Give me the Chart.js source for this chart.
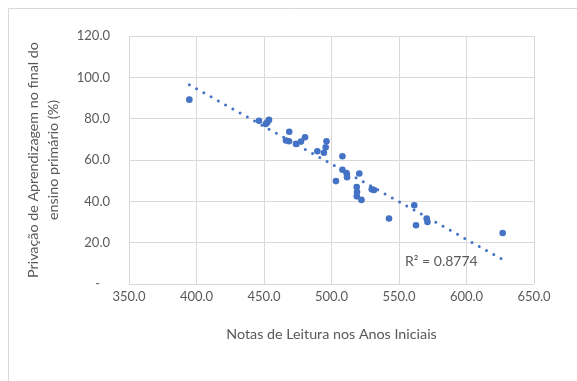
<!DOCTYPE html>
<html>
<head>
<meta charset="utf-8">
<script src="https://cdn.jsdelivr.net/npm/chart.js@4/dist/chart.umd.min.js"></script>
<style>
  html, body { margin: 0; padding: 0; background: #ffffff; }
  #wrap { width: 577px; height: 381px; position: relative; }
</style>
</head>
<body>
<div id="wrap"><canvas id="chart" width="577" height="381"></canvas></div>
<script>
// Reading score in the early grades vs. learning poverty at the end of primary school
const readingScores = [
  394.7, 446.3, 451.3, 452.4, 453.7, 468.7, 466.3, 468.5, 473.7, 477.4, 480.4,
  489.5, 494.4, 495.7, 496.3, 508.1, 508.1, 511.1, 511.5, 503.3, 520.6, 518.7,
  518.9, 518.7, 522.2, 529.8, 531.5, 542.6, 561.3, 562.6, 570.5, 571.1, 626.8
];
const learningPoverty = [
  89.2, 79.0, 77.4, 78.2, 79.4, 73.7, 69.4, 69.1, 67.8, 68.9, 71.0,
  64.2, 63.5, 66.2, 69.1, 61.8, 55.3, 53.7, 51.7, 49.8, 53.5, 46.9,
  44.5, 42.4, 40.7, 45.8, 45.5, 31.7, 38.1, 28.4, 31.7, 30.0, 24.7
];
const xTicks = [350, 400, 450, 500, 550, 600, 650];
const yTicks = [0, 20, 40, 60, 80, 100, 120];
const xTitle = 'Notas de Leitura nos Anos Iniciais';
const yTitle = ['Privação de Aprendizagem no final do', 'ensino primário (%)'];
const rSquaredLabel = 'R² = 0.8774';

const BLUE = '#4472C4';
const TEXT = '#595959';
const GRID = '#d9d9d9';
const FONT = 'Lato, "Open Sans", sans-serif';

// Least-squares linear trendline over the observed range
const n = readingScores.length;
const meanX = readingScores.reduce((a, b) => a + b, 0) / n;
const meanY = learningPoverty.reduce((a, b) => a + b, 0) / n;
let sxy = 0, sxx = 0;
for (let i = 0; i < n; i++) {
  sxy += (readingScores[i] - meanX) * (learningPoverty[i] - meanY);
  sxx += (readingScores[i] - meanX) ** 2;
}
const slope = sxy / sxx;
const intercept = meanY - slope * meanX;
const xMin = Math.min(...readingScores);
const xMax = Math.max(...readingScores);
const trendPoints = [
  { x: xMin, y: intercept + slope * xMin },
  { x: xMax, y: intercept + slope * xMax }
];

const scatterPoints = readingScores.map((x, i) => ({ x, y: learningPoverty[i] }));

// Outer frame and the trendline's R² annotation
const framePlugin = {
  id: 'frame',
  beforeDraw(chart) {
    const ctx = chart.ctx;
    ctx.save();
    ctx.fillStyle = '#ffffff';
    ctx.fillRect(0, 0, chart.width, chart.height);
    ctx.strokeStyle = GRID;
    ctx.lineWidth = 1;
    ctx.beginPath();
    ctx.moveTo(8.5, chart.height);
    ctx.lineTo(8.5, 8.5);
    ctx.lineTo(chart.width, 8.5);
    ctx.stroke();
    ctx.restore();
  },
  afterDatasetsDraw(chart) {
    const ctx = chart.ctx;
    const xs = chart.scales.x, ys = chart.scales.y;
    ctx.save();
    ctx.font = '14px ' + FONT;
    ctx.fillStyle = TEXT;
    ctx.textAlign = 'left';
    ctx.textBaseline = 'middle';
    ctx.fillText(rSquaredLabel, xs.getPixelForValue(554.5), ys.getPixelForValue(10.7));
    ctx.restore();
  }
};

new Chart(document.getElementById('chart'), {
  type: 'scatter',
  data: {
    datasets: [
      {
        label: 'Pontos',
        data: scatterPoints,
        backgroundColor: BLUE,
        borderColor: BLUE,
        pointRadius: 3.3,
        pointHoverRadius: 3.3,
        borderWidth: 0,
        order: 2
      },
      {
        label: 'Linear',
        type: 'line',
        data: trendPoints,
        borderColor: BLUE,
        borderWidth: 3,
        borderDash: [0, 8.3],
        borderCapStyle: 'round',
        pointRadius: 0,
        fill: false,
        order: 1
      }
    ]
  },
  options: {
    responsive: false,
    animation: false,
    events: [],
    layout: { padding: { left: 0, right: 43, top: 36, bottom: 0 } },
    plugins: {
      legend: { display: false },
      tooltip: { enabled: false }
    },
    scales: {
      x: {
        type: 'linear',
        min: 350, max: 650,
        afterBuildTicks(scale) { scale.ticks = xTicks.map(v => ({ value: v })); },
        afterFit(scale) { scale.height = 97; },
        border: { display: false },
        grid: { color: GRID, lineWidth: 1, drawTicks: false },
        ticks: {
          padding: 5,
          color: TEXT,
          font: { family: FONT, size: 13 },
          callback: v => v.toFixed(1)
        },
        title: {
          display: true,
          text: xTitle,
          color: TEXT,
          font: { family: FONT, size: 14.3 },
          padding: { top: 0, bottom: 38 }
        }
      },
      y: {
        type: 'linear',
        min: 0, max: 120,
        afterBuildTicks(scale) { scale.ticks = yTicks.map(v => ({ value: v })); },
        afterFit(scale) { scale.width = 129; },
        border: { display: false },
        grid: { color: GRID, lineWidth: 1, drawTicks: false },
        ticks: {
          padding: 19,
          color: TEXT,
          font: { family: FONT, size: 13 },
          callback: v => (v === 0 ? '-   ' : v.toFixed(1))
        },
        title: {
          display: true,
          text: yTitle,
          color: TEXT,
          font: { family: FONT, size: 14.3, lineHeight: 1.35 },
          padding: { top: 24, bottom: 0 }
        }
      }
    }
  },
  plugins: [framePlugin]
});
</script>
</body>
</html>
